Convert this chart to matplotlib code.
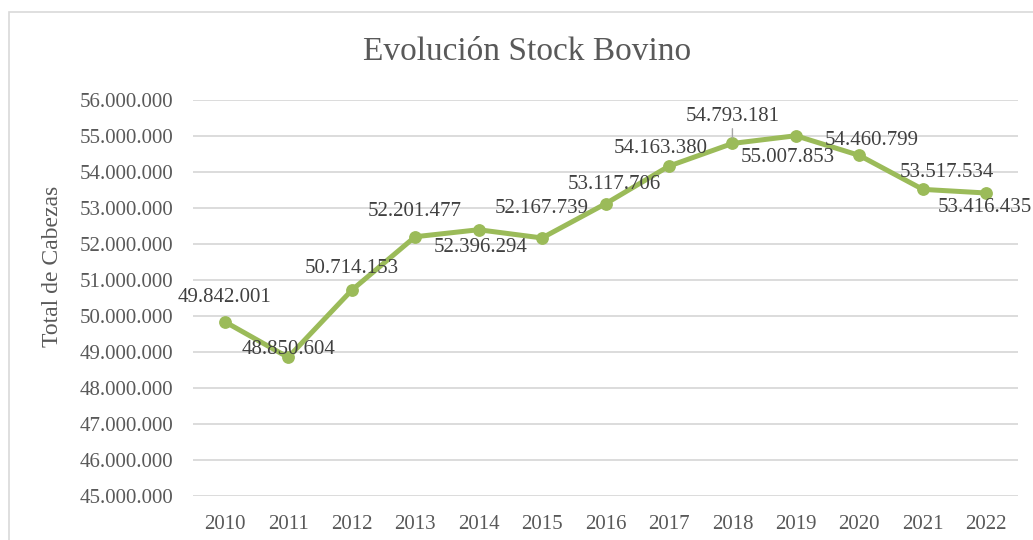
import matplotlib
matplotlib.use("Agg")
import matplotlib.pyplot as plt
from matplotlib.patches import Rectangle
from matplotlib.ticker import FuncFormatter, MultipleLocator

years = ["2010", "2011", "2012", "2013", "2014", "2015", "2016",
         "2017", "2018", "2019", "2020", "2021", "2022"]
stock = [49842001, 48850604, 50714153, 52201477, 52396294, 52167739, 53117706,
         54163380, 54793181, 55007853, 54460799, 53517534, 53416435]

# label offsets in pixels (dx, dy; dy positive = up)
label_offsets = [(0, 24), (0, 8), (0, 22), (0, 25), (2, -18), (0, 29), (9, 19),
                 (-8, 18), (0, 27), (-8, -22), (12, 15), (24, 17), (-1, -14)]

title = "Evolución Stock Bovino"
ylabel = "Total de Cabezas"

W, H, DPI = 1033, 540, 100
plt.rcParams['font.family'] = ['Liberation Serif', 'DejaVu Serif']
text_color = '#595959'
grid_color = '#D9D9D9'
line_color = '#9BBB59'

fig = plt.figure(figsize=(W / DPI, H / DPI), dpi=DPI)
fig.patch.set_facecolor('white')

# chart border
fig.patches.append(Rectangle((9 / W, -0.05), 1.1, 1 - 12 / H + 0.05, transform=fig.transFigure,
                             fill=False, edgecolor=grid_color, linewidth=1.2))

ax = fig.add_axes([193 / W, 1 - 496 / H, (1018 - 193) / W, (496 - 100) / H])
x = list(range(len(years)))
ax.plot(x, stock, color=line_color, linewidth=3.6, marker='o', markersize=8.2,
        solid_capstyle='round', solid_joinstyle='round', zorder=3)

ax.set_xlim(-0.5, len(years) - 0.5)
ax.set_ylim(45000000, 56000000)
ax.yaxis.set_major_locator(MultipleLocator(1000000))
ax.yaxis.set_major_formatter(FuncFormatter(lambda v, p: f"{int(round(v)):,}".replace(",", ".")))
ax.set_xticks(x)
ax.set_xticklabels(years)
ax.grid(axis='y', color=grid_color, linewidth=1.3)
ax.set_axisbelow(True)
for s in ax.spines.values():
    s.set_visible(False)
ax.tick_params(axis='both', length=0, colors=text_color, labelsize=15)
ax.tick_params(axis='y', pad=14)
ax.tick_params(axis='x', pad=14)

ax.set_ylabel(ylabel, fontsize=17, color=text_color)
ax.yaxis.set_label_coords(-0.157, 0.58)

fig.text(527 / W, 1 - 52 / H, title, ha='center', va='center', fontsize=24, color=text_color)

for i, (v, (dx, dy)) in enumerate(zip(stock, label_offsets)):
    lbl = f"{v:,}".replace(",", ".")
    kw = {}
    if i == 8:
        kw['arrowprops'] = dict(arrowstyle='-', color='#A6A6A6', lw=1, shrinkA=0, shrinkB=4)
    ax.annotate(lbl, (i, v), xytext=(dx * 72 / DPI, dy * 72 / DPI), textcoords='offset points',
                ha='center', va='center', fontsize=15, color='#404040', zorder=5, **kw)

fig.savefig("out.png", dpi=DPI, facecolor='white')
